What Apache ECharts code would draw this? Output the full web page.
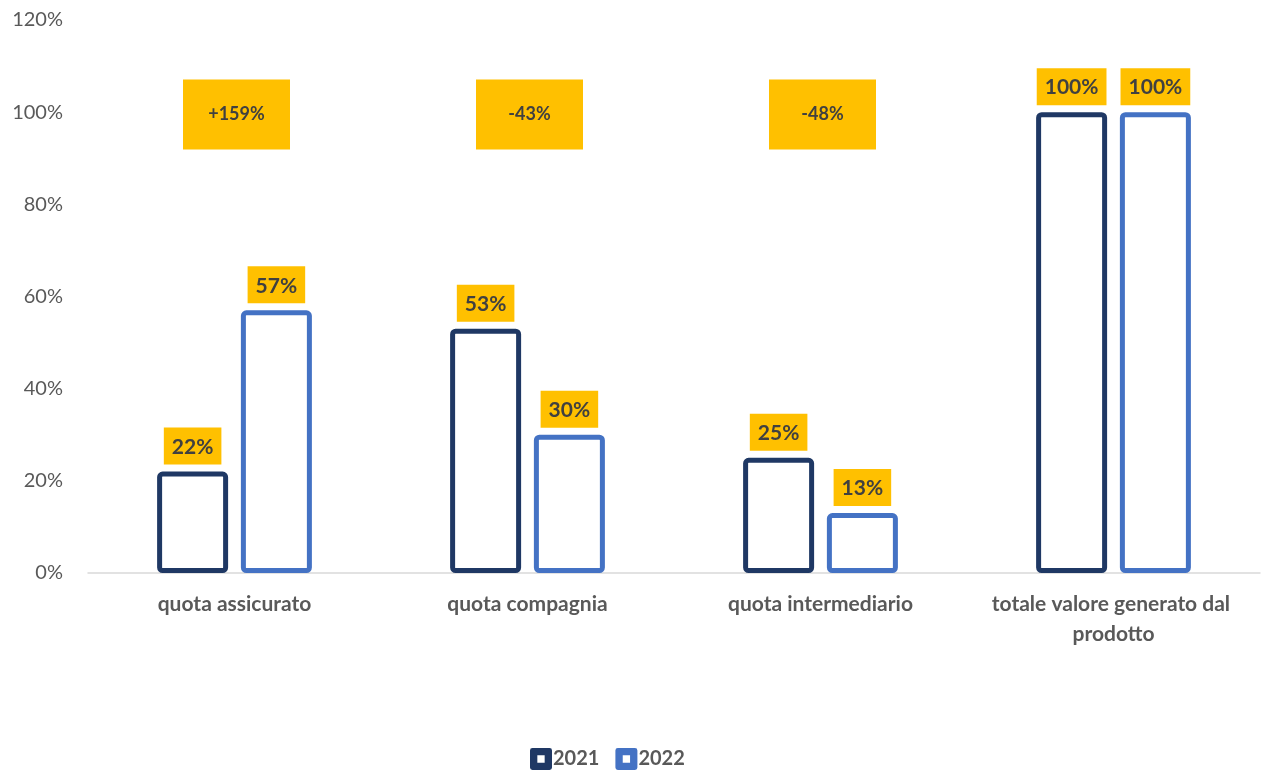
<!DOCTYPE html>
<html>
<head>
<meta charset="utf-8">
<title>Ripartizione del valore generato</title>
<script src="https://cdn.jsdelivr.net/npm/echarts@6/dist/echarts.min.js"></script>
<style>
  html, body { margin: 0; padding: 0; background: #ffffff; }
  #chart { width: 1263px; height: 778px; }
</style>
</head>
<body>
<div id="chart"></div>
<script>
// Categories along the x axis
const categories = ['quota assicurato', 'quota compagnia', 'quota intermediario', 'totale valore generato dal prodotto'];
// Shares (%) per year
const values2021 = [22, 53, 25, 100];
const values2022 = [57, 30, 13, 100];
// Year-over-year change shown in the yellow boxes (one per share category)
const changeLabels = ['+159%', '-43%', '-48%'];
// Height (%) at which the change boxes sit
const changeLevel = 99.5;
// Y axis ticks
const yMax = 120;
const yStep = 20;

const FONT = 'Lato, "Open Sans", sans-serif';
const YELLOW = '#FFC000';
const NAVY = '#1F3864';
const BLUE = '#4472C4';
const GREY = '#595959';
const LABEL_DARK = '#404040';

// Legend marker: thick square frame (outer clockwise, inner counter-clockwise -> hole)
const FRAME_ICON = 'path://M2,0 H16 Q18,0 18,2 V16 Q18,18 16,18 H2 Q0,18 0,16 V2 Q0,0 2,0 Z M6,6 V12 H12 V6 Z';

const valueLabel = {
  show: true,
  position: 'top',
  distance: 7,
  formatter: p => p.value + '%',
  backgroundColor: YELLOW,
  padding: [9, 8, 7, 8],
  fontFamily: FONT,
  fontWeight: 'bold',
  fontSize: 21,
  color: LABEL_DARK
};

const chart = echarts.init(document.getElementById('chart'), null, { renderer: 'canvas' });

chart.setOption({
  animation: false,
  backgroundColor: '#ffffff',
  grid: { left: 88, right: 3, top: 20, bottom: 205, containLabel: false },
  legend: {
    data: [
      { name: '2021', icon: FRAME_ICON, itemStyle: { color: NAVY, borderWidth: 0 } },
      { name: '2022', icon: FRAME_ICON, itemStyle: { color: BLUE, borderWidth: 0 } }
    ],
    top: 743,
    left: 525,
    itemWidth: 22,
    itemHeight: 22,
    itemGap: 16,
    textStyle: { fontFamily: FONT, fontWeight: 'bold', fontSize: 20, color: GREY, padding: [0, 0, 0, -4] }
  },
  xAxis: {
    type: 'category',
    data: categories,
    axisLine: { show: true, lineStyle: { color: '#D9D9D9', width: 1.5 } },
    axisTick: { show: false },
    axisLabel: {
      interval: 0,
      fontFamily: FONT,
      fontWeight: 'bold',
      fontSize: 21,
      color: GREY,
      margin: 16,
      width: 285,
      overflow: 'break',
      lineHeight: 30
    }
  },
  yAxis: {
    type: 'value',
    min: 0,
    max: yMax,
    interval: yStep,
    axisLine: { show: false },
    axisTick: { show: false },
    splitLine: { show: false },
    axisLabel: {
      formatter: v => v + '%',
      fontFamily: FONT,
      fontSize: 20,
      color: GREY,
      margin: 25
    }
  },
  series: [
    {
      name: '2021',
      type: 'bar',
      data: values2021,
      barWidth: 71,
      barGap: '18%',
      itemStyle: { color: '#ffffff', borderColor: NAVY, borderWidth: 5, borderRadius: 3 },
      label: valueLabel,
      z: 3
    },
    {
      name: '2022',
      type: 'bar',
      data: values2022,
      barWidth: 71,
      barGap: '18%',
      itemStyle: { color: '#ffffff', borderColor: BLUE, borderWidth: 5, borderRadius: 3 },
      label: valueLabel,
      z: 3
    },
    {
      name: 'variazione',
      type: 'scatter',
      data: changeLabels.map((t, i) => ({ value: [i, changeLevel], change: t })),
      symbol: 'rect',
      symbolSize: [107, 70],
      symbolOffset: [2, 0],
      itemStyle: { color: YELLOW, opacity: 1 },
      label: {
        show: true,
        position: 'inside',
        formatter: p => p.data.change,
        fontFamily: FONT,
        fontWeight: 'bold',
        fontSize: 18,
        color: LABEL_DARK
      },
      emphasis: { disabled: true },
      z: 4
    }
  ]
});
</script>
</body>
</html>
